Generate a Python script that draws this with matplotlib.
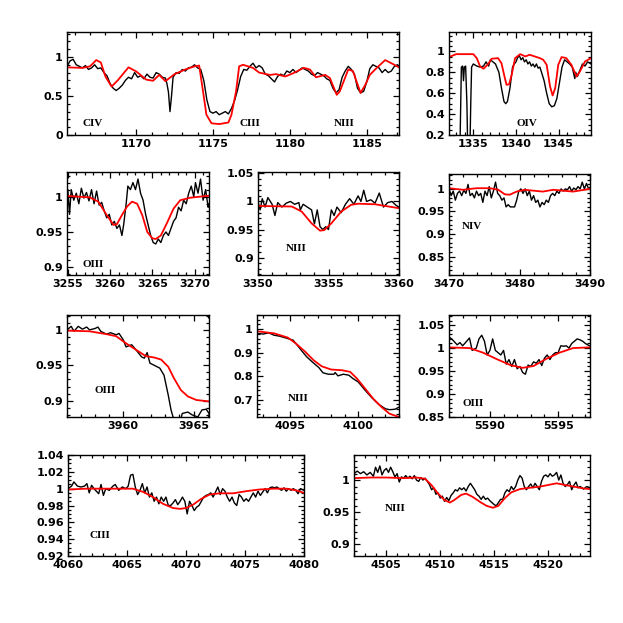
import numpy as np
import matplotlib.pyplot as plt
from matplotlib.ticker import MultipleLocator, FuncFormatter

# --- Spectra: columns are wavelength (A), normalised flux ---
# black = observed, red = model

civ_obs = np.array([
    [1165.5, 0.88], [1165.7, 0.95], [1165.9, 0.97], [1166.1, 0.90], [1166.3, 0.88],
    [1166.5, 0.86], [1166.7, 0.89], [1166.9, 0.84], [1167.1, 0.86], [1167.3, 0.90],
    [1167.5, 0.85], [1167.7, 0.86], [1167.9, 0.80], [1168.1, 0.76], [1168.3, 0.66],
    [1168.5, 0.60], [1168.7, 0.57], [1168.9, 0.60], [1169.1, 0.64], [1169.3, 0.70],
    [1169.5, 0.74], [1169.7, 0.72], [1169.9, 0.80], [1170.1, 0.74], [1170.3, 0.76],
    [1170.5, 0.72], [1170.7, 0.78], [1170.9, 0.74], [1171.1, 0.73], [1171.3, 0.80],
    [1171.5, 0.78], [1171.7, 0.74], [1171.9, 0.73], [1172.0, 0.66], [1172.1, 0.55],
    [1172.2, 0.30], [1172.3, 0.50], [1172.4, 0.74], [1172.6, 0.80], [1172.8, 0.79],
    [1173.0, 0.84], [1173.2, 0.82], [1173.4, 0.86], [1173.6, 0.87], [1173.8, 0.90],
    [1174.0, 0.86], [1174.2, 0.84], [1174.4, 0.70], [1174.6, 0.45], [1174.8, 0.30],
    [1175.0, 0.28], [1175.2, 0.30], [1175.4, 0.26], [1175.6, 0.28], [1175.8, 0.30],
    [1176.0, 0.27], [1176.2, 0.34], [1176.4, 0.44], [1176.6, 0.58], [1176.8, 0.75],
    [1177.0, 0.84], [1177.2, 0.83], [1177.4, 0.88], [1177.6, 0.92], [1177.8, 0.86],
    [1178.0, 0.89], [1178.2, 0.86], [1178.4, 0.78], [1178.6, 0.76], [1178.8, 0.72],
    [1179.0, 0.68], [1179.2, 0.75], [1179.4, 0.78], [1179.6, 0.76], [1179.8, 0.82],
    [1180.0, 0.80], [1180.2, 0.84], [1180.4, 0.80], [1180.6, 0.83], [1180.8, 0.86],
    [1181.0, 0.84], [1181.2, 0.82], [1181.4, 0.78], [1181.6, 0.76], [1181.8, 0.80],
    [1182.0, 0.78], [1182.2, 0.76], [1182.4, 0.72], [1182.6, 0.70], [1182.8, 0.60],
    [1183.0, 0.54], [1183.2, 0.58], [1183.4, 0.74], [1183.6, 0.82], [1183.8, 0.88],
    [1184.0, 0.84], [1184.2, 0.78], [1184.4, 0.60], [1184.6, 0.54], [1184.8, 0.56],
    [1185.0, 0.68], [1185.2, 0.85], [1185.4, 0.90], [1185.6, 0.88], [1185.8, 0.86],
    [1186.0, 0.80], [1186.2, 0.84], [1186.4, 0.80], [1186.6, 0.82], [1186.8, 0.88],
    [1187.0, 0.90], [1187.1, 0.88]])
civ_mod = np.array([
    [1165.5, 0.867], [1166.5, 0.86], [1167.0, 0.88], [1167.4, 0.96], [1167.7, 0.93],
    [1168.0, 0.75], [1168.4, 0.62], [1168.8, 0.70], [1169.5, 0.867], [1170.0, 0.815],
    [1170.65, 0.71], [1171.1, 0.695], [1171.5, 0.77], [1171.9, 0.69], [1172.5, 0.78],
    [1173.2, 0.84], [1173.8, 0.88], [1174.1, 0.89], [1174.35, 0.56], [1174.57, 0.26],
    [1174.9, 0.15], [1175.4, 0.14], [1176.0, 0.16], [1176.2, 0.26], [1176.5, 0.56],
    [1176.7, 0.88], [1176.95, 0.90], [1177.6, 0.86], [1178.0, 0.80], [1178.7, 0.77],
    [1179.1, 0.78], [1179.7, 0.75], [1180.2, 0.79], [1180.9, 0.86], [1181.3, 0.84],
    [1181.7, 0.74], [1182.3, 0.77], [1182.6, 0.73], [1183.05, 0.515], [1183.25, 0.56],
    [1183.8, 0.84], [1184.1, 0.82], [1184.6, 0.54], [1184.9, 0.64], [1185.2, 0.77],
    [1185.65, 0.86], [1186.2, 0.96], [1186.7, 0.91], [1187.1, 0.867]])

oiv_obs = np.array([
    [1333.3, 0.05], [1333.45, 0.15], [1333.6, 0.85], [1333.75, 0.86], [1333.85, 0.72],
    [1333.95, 0.85], [1334.1, 0.86], [1334.25, 0.50], [1334.35, 0.05], [1334.6, 0.05],
    [1334.7, 0.50], [1334.8, 0.85], [1335.0, 0.88], [1335.4, 0.86], [1335.8, 0.85],
    [1336.2, 0.86], [1336.5, 0.90], [1336.8, 0.86], [1337.0, 0.92], [1337.3, 0.90],
    [1337.6, 0.88], [1338.0, 0.80], [1338.3, 0.65], [1338.6, 0.52], [1338.8, 0.50],
    [1339.0, 0.52], [1339.3, 0.65], [1339.6, 0.85], [1339.8, 0.88], [1340.0, 0.90],
    [1340.2, 0.94], [1340.4, 0.96], [1340.6, 0.92], [1340.8, 0.94], [1341.0, 0.90],
    [1341.2, 0.92], [1341.4, 0.88], [1341.6, 0.90], [1341.8, 0.86], [1342.0, 0.88],
    [1342.2, 0.85], [1342.4, 0.88], [1342.6, 0.84], [1342.8, 0.85], [1343.0, 0.80],
    [1343.3, 0.72], [1343.6, 0.60], [1343.9, 0.50], [1344.2, 0.47], [1344.5, 0.48],
    [1344.8, 0.55], [1345.1, 0.70], [1345.4, 0.85], [1345.7, 0.92], [1346.0, 0.90],
    [1346.3, 0.88], [1346.6, 0.85], [1346.9, 0.74], [1347.0, 0.80], [1347.2, 0.76],
    [1347.5, 0.82], [1347.8, 0.88], [1348.1, 0.86], [1348.4, 0.90], [1348.8, 0.88]])
oiv_mod = np.array([
    [1332.15, 0.946], [1333.0, 0.974], [1335.0, 0.974], [1335.4, 0.936], [1335.8, 0.856],
    [1336.2, 0.834], [1336.75, 0.88], [1337.15, 0.93], [1337.9, 0.936], [1338.3, 0.888],
    [1338.7, 0.744], [1338.9, 0.68], [1339.2, 0.686], [1339.5, 0.776], [1339.9, 0.936],
    [1340.5, 0.974], [1341.1, 0.952], [1341.6, 0.968], [1342.2, 0.952], [1342.8, 0.936],
    [1343.2, 0.92], [1343.6, 0.872], [1344.0, 0.664], [1344.3, 0.578], [1344.6, 0.648],
    [1344.96, 0.872], [1345.35, 0.946], [1345.9, 0.936], [1346.5, 0.872], [1347.1, 0.76],
    [1347.5, 0.808], [1348.1, 0.904], [1348.8, 0.936]])

oiii_a_obs = np.array([
    [3254.9, 0.97], [3255.0, 1.01], [3255.2, 0.975], [3255.4, 1.01], [3255.7, 0.995],
    [3256.0, 1.005], [3256.3, 0.99], [3256.6, 1.012], [3256.9, 0.998], [3257.2, 1.006],
    [3257.5, 0.994], [3257.8, 1.01], [3258.1, 0.99], [3258.4, 1.008], [3258.7, 0.988],
    [3259.0, 0.992], [3259.3, 0.98], [3259.6, 0.97], [3259.9, 0.975], [3260.2, 0.96],
    [3260.5, 0.965], [3260.8, 0.955], [3261.1, 0.96], [3261.4, 0.945], [3261.6, 0.96],
    [3261.9, 0.99], [3262.1, 1.015], [3262.4, 1.01], [3262.7, 1.02], [3263.0, 1.01],
    [3263.3, 1.025], [3263.6, 1.005], [3263.9, 0.995], [3264.2, 0.975], [3264.5, 0.96],
    [3264.8, 0.945], [3265.1, 0.935], [3265.4, 0.933], [3265.7, 0.94], [3266.0, 0.935],
    [3266.3, 0.945], [3266.6, 0.95], [3266.9, 0.945], [3267.2, 0.955], [3267.5, 0.965],
    [3267.8, 0.97], [3268.1, 0.985], [3268.4, 0.98], [3268.7, 0.995], [3269.0, 0.99],
    [3269.3, 1.005], [3269.6, 1.015], [3269.9, 1.0], [3270.1, 1.02], [3270.4, 1.005],
    [3270.7, 1.025], [3271.0, 0.995], [3271.3, 1.01], [3271.6, 0.985], [3271.7, 0.99]])
oiii_a_mod = np.array([
    [3254.9, 1.001], [3257.6, 0.999], [3258.6, 0.993], [3259.6, 0.974], [3260.4, 0.96],
    [3260.8, 0.961], [3261.4, 0.974], [3262.0, 0.986], [3262.6, 0.993], [3263.2, 0.99],
    [3263.8, 0.974], [3264.4, 0.95], [3265.0, 0.941], [3265.4, 0.94], [3266.0, 0.945],
    [3266.7, 0.962], [3267.5, 0.983], [3268.3, 0.995], [3269.5, 0.9986], [3271.7, 1.0014]])

niii_a_obs = np.array([
    [3350.0, 1.0], [3350.15, 0.985], [3350.3, 1.005], [3350.5, 0.99], [3350.7, 1.007],
    [3351.0, 0.995], [3351.2, 0.975], [3351.4, 0.998], [3351.7, 0.99], [3352.0, 0.997],
    [3352.3, 1.0], [3352.6, 0.995], [3352.9, 0.998], [3353.0, 0.985], [3353.2, 0.995],
    [3353.5, 0.99], [3353.8, 0.985], [3354.0, 0.96], [3354.2, 0.985], [3354.4, 0.955],
    [3354.6, 0.95], [3354.8, 0.955], [3355.0, 0.95], [3355.2, 0.985], [3355.4, 0.975],
    [3355.6, 0.99], [3355.9, 0.98], [3356.2, 0.995], [3356.5, 1.005], [3356.8, 0.995],
    [3357.1, 1.01], [3357.3, 1.0], [3357.5, 1.02], [3357.7, 1.0], [3358.0, 1.003],
    [3358.3, 0.997], [3358.6, 1.015], [3358.9, 0.99], [3359.2, 0.998], [3359.5, 1.0],
    [3359.8, 0.993], [3360.0, 0.99]])
niii_a_mod = np.array([
    [3350.0, 0.992], [3352.4, 0.991], [3353.1, 0.982], [3353.8, 0.961], [3354.4, 0.948],
    [3354.7, 0.949], [3355.2, 0.961], [3355.9, 0.982], [3356.6, 0.994], [3357.1, 0.996],
    [3358.3, 0.995], [3360.0, 0.988]])

niv_obs = np.array([
    [3470.0, 1.0], [3470.3, 0.985], [3470.6, 0.995], [3470.9, 0.975], [3471.2, 0.99],
    [3471.5, 0.995], [3471.8, 0.985], [3472.1, 0.997], [3472.4, 0.99], [3472.7, 1.01],
    [3473.0, 0.985], [3473.3, 0.99], [3473.6, 0.98], [3473.9, 0.995], [3474.2, 0.985],
    [3474.5, 0.99], [3474.8, 0.97], [3475.1, 0.995], [3475.4, 0.985], [3475.7, 1.005],
    [3476.0, 0.98], [3476.3, 0.995], [3476.6, 1.015], [3476.9, 0.99], [3477.2, 0.985],
    [3477.5, 0.975], [3477.8, 0.98], [3478.1, 0.96], [3478.4, 0.965], [3478.7, 0.96],
    [3479.0, 0.96], [3479.3, 0.96], [3479.6, 0.975], [3479.9, 0.995], [3480.2, 1.0],
    [3480.5, 0.99], [3480.8, 1.0], [3481.1, 0.985], [3481.4, 0.995], [3481.7, 0.975],
    [3482.0, 0.985], [3482.3, 0.97], [3482.6, 0.975], [3482.9, 0.96], [3483.2, 0.97],
    [3483.5, 0.965], [3483.8, 0.975], [3484.1, 0.97], [3484.4, 0.985], [3484.7, 0.99],
    [3485.0, 0.985], [3485.3, 0.995], [3485.6, 0.99], [3485.9, 1.0], [3486.2, 0.995],
    [3486.5, 1.0], [3486.8, 0.998], [3487.1, 1.005], [3487.4, 0.995], [3487.7, 1.002],
    [3488.0, 0.998], [3488.3, 1.005], [3488.6, 1.0], [3488.9, 1.015], [3489.2, 1.0],
    [3489.5, 1.012], [3489.8, 1.0], [3490.0, 1.003]])
niv_mod = np.array([
    [3470.0, 1.0015], [3472.0, 0.998], [3473.9, 1.0015], [3475.8, 1.0015], [3477.0, 0.998],
    [3477.9, 0.988], [3478.6, 0.987], [3479.6, 0.994], [3480.75, 0.998], [3482.0, 0.996],
    [3483.3, 0.994], [3484.8, 0.998], [3486.2, 0.996], [3487.6, 0.994], [3490.0, 1.0]])

oiii_b_obs = np.array([
    [3956.0, 1.0], [3956.3, 1.005], [3956.5, 0.998], [3956.8, 1.005], [3957.1, 1.001],
    [3957.4, 1.004], [3957.6, 1.0], [3958.0, 1.002], [3958.2, 1.004], [3958.4, 0.998],
    [3958.8, 0.994], [3959.1, 0.996], [3959.5, 0.993], [3959.7, 0.995], [3960.0, 0.986],
    [3960.2, 0.976], [3960.6, 0.979], [3960.9, 0.972], [3961.3, 0.962], [3961.5, 0.96],
    [3961.7, 0.968], [3961.9, 0.953], [3962.2, 0.95], [3962.6, 0.946], [3962.9, 0.936],
    [3963.2, 0.908], [3963.4, 0.887], [3963.6, 0.873], [3963.9, 0.86], [3964.2, 0.882],
    [3964.6, 0.884], [3964.9, 0.88], [3965.3, 0.877], [3965.6, 0.887], [3965.9, 0.888],
    [3966.1, 0.882]])
oiii_b_mod = np.array([
    [3956.0, 0.999], [3957.6, 0.998], [3958.8, 0.994], [3959.5, 0.991], [3960.2, 0.981],
    [3960.9, 0.972], [3961.6, 0.963], [3962.2, 0.961], [3962.7, 0.958], [3963.2, 0.948],
    [3963.6, 0.932], [3964.1, 0.915], [3964.6, 0.906], [3965.2, 0.901], [3966.1, 0.899]])

niii_b_obs = np.array([
    [4092.5, 0.982], [4093.0, 0.979], [4093.4, 0.984], [4093.8, 0.974], [4094.2, 0.97],
    [4094.8, 0.96], [4095.2, 0.953], [4095.4, 0.939], [4095.8, 0.91], [4096.2, 0.882],
    [4096.6, 0.861], [4097.1, 0.836], [4097.4, 0.814], [4097.8, 0.808], [4098.2, 0.808],
    [4098.3, 0.815], [4098.5, 0.801], [4098.9, 0.808], [4099.3, 0.804], [4099.6, 0.79],
    [4100.0, 0.775], [4100.5, 0.74], [4101.0, 0.708], [4101.5, 0.68], [4102.0, 0.661],
    [4102.3, 0.657], [4102.7, 0.659], [4103.0, 0.668]])
niii_b_mod = np.array([
    [4092.5, 0.991], [4093.8, 0.982], [4094.8, 0.964], [4095.4, 0.939], [4096.1, 0.903],
    [4096.7, 0.868], [4097.3, 0.842], [4098.0, 0.828], [4098.8, 0.825], [4099.4, 0.818],
    [4099.9, 0.79], [4100.5, 0.747], [4101.1, 0.704], [4101.7, 0.669], [4102.3, 0.64],
    [4103.0, 0.626]])

oiii_c_obs = np.array([
    [5587.0, 1.024], [5587.2, 1.02], [5587.6, 1.007], [5587.8, 1.012], [5588.0, 1.005],
    [5588.3, 1.015], [5588.5, 1.022], [5588.7, 0.995], [5589.0, 1.0], [5589.2, 1.02],
    [5589.4, 1.028], [5589.6, 1.015], [5589.8, 0.985], [5590.0, 0.995], [5590.2, 1.02],
    [5590.4, 0.995], [5590.6, 0.99], [5590.8, 0.985], [5591.0, 0.995], [5591.2, 0.965],
    [5591.4, 0.975], [5591.6, 0.96], [5591.8, 0.975], [5592.0, 0.955], [5592.2, 0.96],
    [5592.4, 0.947], [5592.6, 0.943], [5592.8, 0.963], [5593.0, 0.96], [5593.2, 0.97],
    [5593.4, 0.967], [5593.6, 0.975], [5593.8, 0.962], [5594.0, 0.978], [5594.2, 0.985],
    [5594.4, 0.975], [5594.6, 0.985], [5594.8, 0.99], [5595.0, 0.99], [5595.2, 1.005],
    [5595.4, 1.004], [5595.6, 1.005], [5595.8, 1.0], [5596.0, 1.01], [5596.2, 1.015],
    [5596.4, 1.02], [5596.6, 1.018], [5596.8, 1.015], [5597.0, 1.01], [5597.3, 1.005]])
oiii_c_mod = np.array([
    [5587.0, 1.0015], [5588.5, 1.0], [5589.5, 0.99], [5590.5, 0.976], [5591.5, 0.963],
    [5592.4, 0.957], [5593.2, 0.961], [5594.1, 0.976], [5595.1, 0.99], [5596.1, 1.0],
    [5597.3, 1.0015]])

ciii_obs = np.array([
    [4060.0, 1.0], [4060.3, 1.003], [4060.5, 1.008], [4060.8, 1.003], [4061.1, 1.002],
    [4061.4, 1.003], [4061.6, 1.006], [4061.8, 0.995], [4062.0, 1.004], [4062.2, 1.0],
    [4062.4, 0.997], [4062.6, 0.994], [4062.8, 1.005], [4063.0, 0.992], [4063.2, 1.0],
    [4063.5, 0.998], [4063.8, 1.003], [4064.0, 1.005], [4064.3, 0.998], [4064.6, 1.002],
    [4064.9, 1.0], [4065.1, 1.003], [4065.3, 1.016], [4065.5, 1.017], [4065.7, 1.002],
    [4065.9, 0.993], [4066.1, 0.998], [4066.3, 1.006], [4066.5, 0.995], [4066.7, 1.002],
    [4066.9, 0.99], [4067.1, 0.995], [4067.3, 0.985], [4067.5, 0.99], [4067.7, 0.982],
    [4067.9, 0.99], [4068.1, 0.985], [4068.3, 0.99], [4068.5, 0.98], [4068.7, 0.98],
    [4068.9, 0.983], [4069.1, 0.987], [4069.3, 0.981], [4069.5, 0.985], [4069.7, 0.99],
    [4069.9, 0.985], [4070.1, 0.97], [4070.3, 0.985], [4070.5, 0.98], [4070.7, 0.974],
    [4070.9, 0.978], [4071.1, 0.98], [4071.3, 0.985], [4071.5, 0.99], [4071.7, 0.992],
    [4071.9, 0.993], [4072.1, 0.995], [4072.3, 0.99], [4072.5, 0.996], [4072.7, 1.002],
    [4072.9, 0.993], [4073.1, 1.0], [4073.3, 0.997], [4073.5, 0.99], [4073.7, 0.985],
    [4073.9, 0.99], [4074.1, 0.983], [4074.3, 0.98], [4074.5, 0.993], [4074.7, 0.99],
    [4074.9, 0.985], [4075.1, 0.988], [4075.3, 0.985], [4075.5, 0.99], [4075.7, 0.995],
    [4075.9, 0.99], [4076.1, 0.997], [4076.3, 0.992], [4076.5, 0.996], [4076.7, 1.0],
    [4076.9, 0.995], [4077.1, 1.001], [4077.3, 1.002], [4077.5, 1.001], [4077.7, 1.002],
    [4077.9, 1.0], [4078.1, 0.998], [4078.3, 1.001], [4078.5, 0.997], [4078.7, 1.0],
    [4078.9, 0.998], [4079.1, 1.0], [4079.3, 0.998], [4079.5, 0.994], [4079.7, 1.0],
    [4080.0, 0.998]])
ciii_mod = np.array([
    [4060.0, 0.999], [4061.55, 1.0], [4063.0, 1.0], [4064.4, 1.0], [4065.5, 1.0],
    [4066.4, 0.996], [4067.2, 0.99], [4068.05, 0.982], [4068.9, 0.977], [4069.5, 0.976],
    [4070.0, 0.977], [4070.6, 0.981], [4071.3, 0.988], [4072.0, 0.993], [4072.85, 0.9945],
    [4074.0, 0.9945], [4075.1, 0.997], [4076.2, 0.999], [4077.4, 1.0], [4078.5, 1.0],
    [4079.35, 0.998], [4080.0, 0.995]])

niii_c_obs = np.array([
    [4502.0, 1.01], [4502.3, 1.014], [4502.6, 1.01], [4502.9, 1.013], [4503.2, 1.008],
    [4503.5, 1.012], [4503.8, 1.006], [4504.0, 1.02], [4504.2, 1.012], [4504.4, 1.022],
    [4504.6, 1.008], [4504.8, 1.015], [4505.0, 1.018], [4505.2, 1.012], [4505.4, 1.02],
    [4505.6, 1.013], [4505.8, 1.005], [4506.0, 1.01], [4506.2, 0.997], [4506.4, 1.005],
    [4506.6, 1.003], [4506.8, 1.007], [4507.0, 1.003], [4507.2, 1.006], [4507.4, 1.002],
    [4507.6, 1.007], [4507.8, 1.0], [4508.0, 0.998], [4508.2, 1.004], [4508.4, 1.0],
    [4508.6, 1.003], [4508.8, 0.998], [4509.0, 0.993], [4509.2, 0.985], [4509.4, 0.988],
    [4509.6, 0.978], [4509.8, 0.98], [4510.0, 0.972], [4510.2, 0.975], [4510.4, 0.967],
    [4510.6, 0.973], [4510.8, 0.968], [4511.0, 0.976], [4511.2, 0.98], [4511.4, 0.985],
    [4511.6, 0.983], [4511.8, 0.988], [4512.0, 0.985], [4512.2, 0.988], [4512.4, 0.983],
    [4512.6, 0.99], [4512.8, 0.995], [4513.0, 0.99], [4513.2, 0.985], [4513.4, 0.978],
    [4513.6, 0.975], [4513.8, 0.97], [4514.0, 0.975], [4514.2, 0.97], [4514.4, 0.972],
    [4514.6, 0.968], [4514.8, 0.965], [4515.0, 0.962], [4515.2, 0.96], [4515.4, 0.965],
    [4515.6, 0.97], [4515.8, 0.97], [4516.0, 0.98], [4516.2, 0.985], [4516.4, 0.982],
    [4516.6, 0.99], [4516.8, 0.985], [4517.0, 0.99], [4517.2, 1.0], [4517.4, 1.007],
    [4517.6, 1.003], [4517.8, 0.99], [4518.0, 0.985], [4518.2, 0.99], [4518.4, 0.994],
    [4518.6, 0.988], [4518.8, 0.995], [4519.0, 0.99], [4519.2, 0.985], [4519.4, 0.998],
    [4519.6, 1.006], [4519.8, 1.008], [4520.0, 1.005], [4520.2, 1.01], [4520.4, 1.006],
    [4520.6, 1.008], [4520.8, 1.012], [4521.0, 1.0], [4521.2, 1.008], [4521.4, 0.995],
    [4521.6, 0.99], [4521.8, 0.993], [4522.0, 0.998], [4522.2, 0.985], [4522.4, 0.992],
    [4522.6, 0.997], [4522.8, 0.988], [4523.0, 0.99], [4523.3, 0.986], [4523.6, 0.99],
    [4523.9, 0.988]])
niii_c_mod = np.array([
    [4502.0, 1.003], [4503.5, 1.004], [4505.0, 1.004], [4506.6, 1.003], [4507.8, 1.004],
    [4508.6, 1.002], [4509.2, 0.992], [4509.8, 0.979], [4510.4, 0.969], [4510.9, 0.965],
    [4511.3, 0.969], [4511.95, 0.977], [4512.4, 0.979], [4513.0, 0.974], [4513.7, 0.966],
    [4514.3, 0.96], [4514.9, 0.957], [4515.4, 0.96], [4516.0, 0.972], [4516.6, 0.981],
    [4517.4, 0.986], [4518.3, 0.988], [4519.3, 0.99], [4520.2, 0.993], [4520.8, 0.995],
    [4521.4, 0.993], [4522.35, 0.99], [4523.3, 0.987], [4523.9, 0.986]])

# --- Panel layout (pixels on a 623x623 canvas) ---
W = 623.0
# (obs, model, ion, [left, right, top, bottom] px, xlim, ylim, xmaj, xmin, ymaj, ymin, label pos in axes fraction)
panels = [
    (civ_obs, civ_mod, ['CIV', 'CIII', 'NIII'], [67, 399, 32, 135], (1165.5, 1187.1), (0, 1.32),
     5, 1, 0.5, 0.1, [(0.078, 0.11), (0.55, 0.11), (0.836, 0.11)]),
    (oiv_obs, oiv_mod, ['OIV'], [449, 591, 32, 135], (1332.15, 1348.8), (0.2, 1.186),
     5, 1, 0.2, 0.05, [(0.547, 0.11)]),
    (oiii_a_obs, oiii_a_mod, ['OIII'], [67, 209, 172, 275], (3254.9, 3271.7), (0.889, 1.035),
     5, 1, 0.05, 0.01, [(0.183, 0.10)]),
    (niii_a_obs, niii_a_mod, ['NIII'], [258, 399, 172, 275], (3350, 3360), (0.869, 1.0525),
     5, 1, 0.05, 0.01, [(0.27, 0.26)]),
    (niv_obs, niv_mod, ['NIV'], [449, 590, 174, 275], (3470, 3490), (0.809, 1.033),
     10, 2, 0.05, 0.01, [(0.16, 0.48)]),
    (oiii_b_obs, oiii_b_mod, ['OIII'], [67, 209, 315, 417], (3956.0, 3966.1), (0.877, 1.021),
     5, 1, 0.05, 0.01, [(0.265, 0.256)]),
    (niii_b_obs, niii_b_mod, ['NIII'], [257, 399, 315, 417], (4092.54, 4103.0), (0.626, 1.06),
     5, 1, 0.1, 0.02, [(0.29, 0.18)]),
    (oiii_c_obs, oiii_c_mod, ['OIII'], [449, 590, 315, 417], (5587.0, 5597.34), (0.85, 1.072),
     5, 1, 0.05, 0.01, [(0.17, 0.13)]),
    (ciii_obs, ciii_mod, ['CIII'], [68, 304, 455, 556], (4060, 4080), (0.92, 1.04),
     5, 1, 0.02, 0.005, [(0.134, 0.20)]),
    (niii_c_obs, niii_c_mod, ['NIII'], [354, 590, 455, 556], (4502.0, 4523.9), (0.882, 1.039),
     5, 1, 0.05, 0.01, [(0.176, 0.47)]),
]

fig = plt.figure(figsize=(6.23, 6.23), dpi=100)
fmt = FuncFormatter(lambda v, p: f"{v:g}")

for obs, mod, ions, box, xl, yl, xmaj, xmin, ymaj, ymin, lpos in panels:
    l, r, t, b = box
    ax = fig.add_axes([l / W, 1 - b / W, (r - l) / W, (b - t) / W])
    ax.plot(obs[:, 0], obs[:, 1], color='black', lw=1.0)
    ax.plot(mod[:, 0], mod[:, 1], color='red', lw=1.3)
    ax.set_xlim(*xl)
    ax.set_ylim(*yl)
    ax.xaxis.set_major_locator(MultipleLocator(xmaj))
    ax.xaxis.set_minor_locator(MultipleLocator(xmin))
    ax.yaxis.set_major_locator(MultipleLocator(ymaj))
    ax.yaxis.set_minor_locator(MultipleLocator(ymin))
    ax.xaxis.set_major_formatter(fmt)
    ax.yaxis.set_major_formatter(fmt)
    ax.tick_params(which='both', direction='in', top=True, right=True, width=0.9)
    ax.tick_params(which='major', length=4.5, labelsize=8, pad=3)
    ax.tick_params(which='minor', length=2.2)
    for lab in ax.get_xticklabels() + ax.get_yticklabels():
        lab.set_fontweight('bold')
    for s in ax.spines.values():
        s.set_linewidth(1.0)
    for ion, (px, py) in zip(ions, lpos):
        ax.text(px, py, ion, transform=ax.transAxes, ha='center', va='center',
                fontsize=8, family='Liberation Serif', fontweight='bold')

fig.savefig('out.png', dpi=100)
